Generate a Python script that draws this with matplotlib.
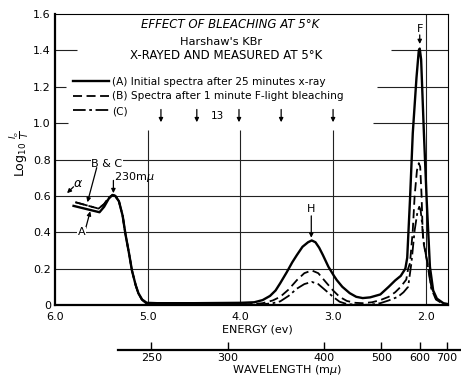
import matplotlib
matplotlib.use("Agg")
import matplotlib.pyplot as plt

plt.rcParams['font.family'] = ['DejaVu Sans']

# curve (A): initial spectra after 25 minutes x-ray
energy_a = [5.80, 5.52, 5.47, 5.42, 5.38, 5.35, 5.31, 5.27, 5.24, 5.20, 5.17, 5.13,
            5.10, 5.06, 5.01, 4.90, 4.50, 4.00, 3.85, 3.76, 3.68, 3.62, 3.57, 3.50,
            3.44, 3.39, 3.33, 3.27, 3.23, 3.19, 3.15, 3.11, 3.05, 2.99, 2.96, 2.90,
            2.82, 2.75, 2.68, 2.60, 2.49, 2.40, 2.33, 2.27, 2.22, 2.20, 2.17, 2.14,
            2.10, 2.075, 2.065, 2.05, 2.02, 1.99, 1.955, 1.92, 1.88, 1.81, 1.76]
absorb_a = [0.545, 0.51, 0.54, 0.585, 0.605, 0.60, 0.57, 0.49, 0.39, 0.28, 0.19, 0.11,
            0.065, 0.03, 0.012, 0.010, 0.010, 0.012, 0.015, 0.027, 0.05, 0.08, 0.12, 0.18,
            0.235, 0.275, 0.32, 0.345, 0.355, 0.345, 0.315, 0.275, 0.21, 0.16, 0.137, 0.10,
            0.065, 0.045, 0.038, 0.042, 0.058, 0.10, 0.135, 0.16, 0.20, 0.26, 0.58, 0.945,
            1.25, 1.40, 1.41, 1.35, 0.945, 0.577, 0.21, 0.08, 0.035, 0.01, 0.005]

# curve (B): spectra after 1 minute F-light bleaching
energy_b = [5.78, 5.53, 5.47, 5.42, 5.38, 5.35, 5.31, 5.27, 5.24, 5.20, 5.17, 5.13,
            5.10, 5.06, 5.01, 4.50, 4.00, 3.85, 3.76, 3.65, 3.57, 3.48, 3.39, 3.31,
            3.23, 3.16, 3.08, 3.00, 2.93, 2.85, 2.76, 2.68, 2.58, 2.49, 2.40, 2.33,
            2.27, 2.21, 2.19, 2.17, 2.14, 2.12, 2.095, 2.075, 2.06, 2.045, 2.035, 2.03,
            2.02, 1.98, 1.94, 1.89, 1.82, 1.76]
absorb_b = [0.565, 0.53, 0.555, 0.59, 0.605, 0.60, 0.57, 0.49, 0.39, 0.28, 0.19, 0.11,
            0.062, 0.027, 0.006, 0.004, 0.004, 0.005, 0.010, 0.025, 0.045, 0.085, 0.137, 0.175,
            0.19, 0.175, 0.127, 0.08, 0.045, 0.022, 0.012, 0.010, 0.015, 0.027, 0.045, 0.07,
            0.10, 0.14, 0.20, 0.23, 0.41, 0.60, 0.74, 0.78, 0.76, 0.60, 0.43, 0.38,
            0.33, 0.23, 0.10, 0.035, 0.01, 0.0]

# curve (C)
energy_c = [5.78, 5.53, 5.47, 5.42, 5.38, 5.35, 5.31, 5.27, 5.24, 5.20, 5.17, 5.13,
            5.10, 5.06, 5.01, 4.50, 4.00, 3.76, 3.65, 3.57, 3.48, 3.39, 3.31, 3.23,
            3.16, 3.08, 3.00, 2.93, 2.85, 2.68, 2.58, 2.49, 2.40, 2.30, 2.24, 2.19,
            2.155, 2.12, 2.09, 2.07, 2.055, 2.04, 2.03, 2.02, 1.98, 1.94, 1.89, 1.82, 1.76]
absorb_c = [0.565, 0.53, 0.555, 0.59, 0.605, 0.60, 0.57, 0.49, 0.39, 0.28, 0.19, 0.11,
            0.062, 0.027, 0.006, 0.004, 0.004, 0.004, 0.01, 0.02, 0.05, 0.09, 0.115, 0.127,
            0.115, 0.08, 0.045, 0.018, 0.005, 0.0, 0.003, 0.01, 0.025, 0.045, 0.07, 0.10,
            0.23, 0.41, 0.51, 0.54, 0.52, 0.45, 0.38, 0.34, 0.22, 0.09, 0.03, 0.008, 0.0]

legend_labels = ["(A) Initial spectra after 25 minutes x-ray",
                 "(B) Spectra after 1 minute F-light bleaching",
                 "(C)"]
energy_ticks = [6.0, 5.0, 4.0, 3.0, 2.0]
y_ticks = [0, 0.2, 0.4, 0.6, 0.8, 1.0, 1.2, 1.4, 1.6]
wavelengths = [250, 300, 400, 500, 600, 700]
band_arrows = [4.857, 4.47, 4.015, 3.56, 3.0]

W, H = 461, 379
fig = plt.figure(figsize=(W / 100, H / 100), dpi=100)
ax = fig.add_axes([55 / W, 74 / H, 393 / W, 291 / H])
ax.set_xlim(6.0, 1.76)
ax.set_ylim(0, 1.6)

# partial grid, broken where the text sits
gc = dict(color='#222222', lw=0.8, zorder=1)
for v in [0.2, 0.4, 0.6, 0.8]:
    ax.hlines(v, 6.0, 1.76, **gc)
ax.hlines(1.0, 6.0, 5.86, **gc)
ax.hlines(1.0, 2.57, 1.76, **gc)
ax.hlines(1.2, 6.0, 5.88, **gc)
ax.hlines(1.2, 2.53, 1.76, **gc)
ax.hlines(1.4, 6.0, 5.76, **gc)
ax.hlines(1.4, 2.37, 1.76, **gc)
for e in [5.0, 4.0, 3.0]:
    ax.vlines(e, 0, 0.96, **gc)
ax.vlines(2.0, 0, 1.6, **gc)

la, = ax.plot(energy_a, absorb_a, color='black', lw=1.7, zorder=3)
lb, = ax.plot(energy_b, absorb_b, color='black', lw=1.3, ls=(0, (5, 2.5)), zorder=3)
lc, = ax.plot(energy_c, absorb_c, color='black', lw=1.3, ls=(0, (7, 2, 1.5, 2)), zorder=3)

ax.legend([la, lb, lc], legend_labels, loc='upper left', bbox_to_anchor=(0.045, 0.785),
          frameon=False, fontsize=7.6, handlelength=3.4, handletextpad=0.35,
          labelspacing=0.45, borderpad=0, borderaxespad=0)

ax.text(4.11, 1.54, "EFFECT OF BLEACHING AT 5°K", style='italic', fontsize=8.5,
        ha='center', va='center')
ax.text(4.21, 1.445, "Harshaw's KBr", fontsize=8.2, ha='center', va='center')
ax.text(4.15, 1.37, "X-RAYED AND MEASURED AT 5°K", fontsize=8.5, ha='center', va='center')

ap = dict(arrowstyle='-|>', color='black', lw=0.9, mutation_scale=6, shrinkA=0, shrinkB=0)
for e in band_arrows:
    ax.annotate("", xy=(e, 1.005), xytext=(e, 1.075), arrowprops=ap)
ax.text(4.25, 1.04, "13", fontsize=7.5, ha='center', va='center')

ax.annotate("", xy=(2.065, 1.435), xytext=(2.065, 1.485), arrowprops=ap)
ax.text(2.065, 1.52, "F", fontsize=8, ha='center', va='center')
ax.annotate("", xy=(3.235, 0.37), xytext=(3.235, 0.49), arrowprops=ap)
ax.text(3.235, 0.53, "H", fontsize=8, ha='center', va='center')

ax.text(5.44, 0.775, "B & C", fontsize=8, ha='center', va='center',
        bbox=dict(facecolor='white', edgecolor='none', pad=0.5), zorder=4)
ax.annotate("", xy=(5.65, 0.565), xytext=(5.55, 0.755), arrowprops=ap, zorder=4)
ax.text(5.14, 0.705, "230m$\\mu$", fontsize=8, ha='center', va='center')
ax.annotate("", xy=(5.37, 0.615), xytext=(5.37, 0.685), arrowprops=ap)
ax.text(5.75, 0.67, "$\\alpha$", fontsize=9, ha='center', va='center')
ax.annotate("", xy=(5.87, 0.615), xytext=(5.80, 0.65), arrowprops=ap)
ax.text(5.71, 0.40, "A", fontsize=8, ha='center', va='center',
        bbox=dict(facecolor='white', edgecolor='none', pad=0.5), zorder=4)
ax.annotate("", xy=(5.62, 0.515), xytext=(5.67, 0.42), arrowprops=ap)

ax.set_xticks(energy_ticks)
ax.set_xticklabels(["%.1f" % e for e in energy_ticks])
ax.set_yticks(y_ticks)
ax.set_yticklabels(["0" if v == 0 else "%.1f" % v for v in y_ticks])
ax.tick_params(length=0, labelsize=8)
ax.tick_params(axis='x', pad=5)
ax.tick_params(axis='y', pad=3)
for s in ['left', 'bottom']:
    ax.spines[s].set_linewidth(1.6)
for s in ['top', 'right']:
    ax.spines[s].set_linewidth(0.8)
fig.text(257 / W, 1 - 330 / H, "ENERGY (ev)", fontsize=8, ha='center', va='center')

fig.text(20 / W, 1 - 154 / H, "Log$_{10}$ $\\frac{I_o}{I}$", rotation=90,
         fontsize=9, ha='center', va='center')

# wavelength scale
ax2 = fig.add_axes([55 / W, 29 / H, 406 / W, 0.0001])
ax2.set_xlim(6.0, 6.0 - 406 / 92.7)
ax2.set_yticks([])
for s in ['left', 'right', 'top']:
    ax2.spines[s].set_visible(False)
ax2.spines['bottom'].set_linewidth(1.6)
ax2.spines['bottom'].set_bounds(5.32, 6.0 - 406 / 92.7)
ax2.set_xticks([1239.8 / w for w in wavelengths])
ax2.set_xticklabels([str(w) for w in wavelengths])
ax2.tick_params(axis='x', direction='in', length=6, width=1, labelsize=8, pad=2)
ax2.patch.set_visible(False)
fig.text(287 / W, 1 - 370 / H, "WAVELENGTH (m$\\mu$)", fontsize=8, ha='center', va='center')

fig.savefig("out.png", dpi=100)
